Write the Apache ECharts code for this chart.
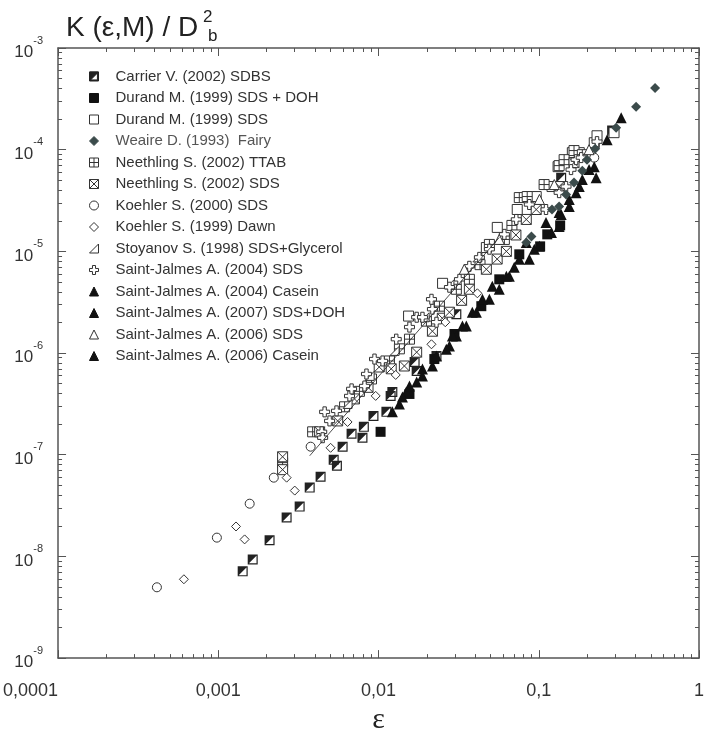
<!DOCTYPE html>
<html><head><meta charset="utf-8">
<script src="https://cdn.jsdelivr.net/npm/echarts@6/dist/echarts.min.js"></script>
<style>html,body{margin:0;padding:0;background:#fff}#c{width:707px;height:740px}</style>
</head><body><div id="c"></div>
<script>
// ---- tick labels ----
const xTickLabels = ['0,0001', '0,001', '0,01', '0,1', '1'];
const yTickExponents = ['-9', '-8', '-7', '-6', '-5', '-4', '-3'];

// ---- series names (legend order) ----
const seriesNames = [
  'Carrier V. (2002) SDBS',
  'Durand M. (1999) SDS + DOH',
  'Durand M. (1999) SDS',
  'Weaire D. (1993)  Fairy',
  'Neethling S. (2002) TTAB',
  'Neethling S. (2002) SDS',
  'Koehler S. (2000) SDS',
  'Koehler S. (1999) Dawn',
  'Stoyanov S. (1998) SDS+Glycerol',
  'Saint-Jalmes A. (2004) SDS',
  'Saint-Jalmes A. (2004) Casein',
  'Saint-Jalmes A. (2007) SDS+DOH',
  'Saint-Jalmes A. (2006) SDS',
  'Saint-Jalmes A. (2006) Casein'
];

// ---- data [epsilon, K/Db^2] ----
const carrier2002 = [[1.42e-3,7.13e-9],[1.64e-3,9.35e-9],[2.09e-3,1.44e-8],[2.67e-3,2.41e-8],[3.22e-3,3.09e-8],[3.72e-3,4.75e-8],[4.35e-3,6.08e-8],[5.25e-3,8.93e-8],[5.5e-3,7.8e-8],[5.97e-3,1.2e-7],[6.79e-3,1.61e-7],[7.94e-3,1.47e-7],[8.1e-3,1.88e-7],[9.3e-3,2.41e-7],[1.12e-2,2.64e-7],[1.19e-2,3.78e-7],[1.22e-2,4.15e-7],[1.68e-2,8.16e-7],[1.73e-2,6.67e-7],[2.30e-2,9.35e-7],[3.06e-2,2.41e-6],[0.138,5.31e-5],[0.287,1.54e-4]];
const durandDOH = [[1.03e-2,1.68e-7],[1.56e-2,3.96e-7],[2.23e-2,8.73e-7],[2.98e-2,1.54e-6],[4.38e-2,2.89e-6],[5.67e-2,5.31e-6],[7.56e-2,9.35e-6],[0.102,1.12e-5],[0.113,1.47e-5],[0.136,1.8e-5]];
const durandSDS = [[1.54e-2,2.31e-6],[2.51e-2,4.85e-6],[4.71e-2,1.09e-5],[5.51e-2,1.72e-5],[7.34e-2,2.58e-5],[8.73e-2,3.46e-5],[9.64e-2,3.46e-5],[0.121,4.34e-5],[0.132,6.81e-5],[0.162,9.35e-5],[0.179,9.35e-5],[0.222,1.17e-4],[0.231,1.37e-4],[0.295,1.47e-4]];
const weaire1993 = [[0.532,4.05e-4],[0.405,2.64e-4],[0.304,1.64e-4],[0.225,1.02e-4],[0.2,7.98e-5],[0.187,6.22e-5],[0.166,4.75e-5],[0.148,3.62e-5],[0.134,2.76e-5],[0.121,2.58e-5],[0.09,1.4e-5],[8.36e-2,1.22e-5]];
const neethlingTTAB = [[2.52e-3,8.36e-8],[3.88e-3,1.68e-7],[6.14e-3,2.96e-7],[7.6e-3,4.2e-7],[9.04e-3,5.56e-7],[1.17e-2,8.36e-7],[1.35e-2,1.1e-6],[1.56e-2,1.37e-6],[1.99e-2,2.06e-6],[2.40e-2,2.89e-6],[3.06e-2,4.24e-6],[3.69e-2,5.31e-6],[4.3e-2,7.4e-6],[4.92e-2,1.17e-5],[6.10e-2,1.31e-5],[6.8e-2,1.8e-5],[7.56e-2,3.38e-5],[8.47e-2,3.46e-5],[0.108,4.54e-5],[0.134,6.97e-5],[0.144,7.98e-5],[0.166,9.8e-5],[0.187,8.93e-5]];
const neethlingSDS = [[2.52e-3,9.55e-8],[2.52e-3,7.13e-8],[4.29e-3,1.68e-7],[5.56e-3,2.15e-7],[7.08e-3,3.54e-7],[8.6e-3,4.6e-7],[1.01e-2,7.29e-7],[1.2e-2,7.0e-7],[1.45e-2,7.46e-7],[1.73e-2,1.02e-6],[2.17e-2,1.64e-6],[2.5e-2,2.2e-6],[2.77e-2,2.52e-6],[3.3e-2,3.3e-6],[3.69e-2,4.24e-6],[4.71e-2,6.67e-6],[5.5e-2,8.4e-6],[6.28e-2,1.0e-5],[7.2e-2,1.45e-5],[8.36e-2,2.06e-5],[9.64e-2,2.58e-5],[0.134,4.34e-5],[0.166,7.46e-5]];
const koehler2000 = [[4.14e-4,4.97e-9],[9.8e-4,1.53e-8],[1.57e-3,3.3e-8],[2.22e-3,5.95e-8],[3.77e-3,1.2e-7],[0.222,8.35e-5]];
const koehler1999 = [[6.1e-4,5.96e-9],[1.29e-3,1.97e-8],[1.46e-3,1.47e-8],[2.67e-3,5.95e-8],[3.0e-3,4.44e-8],[5.02e-3,1.17e-7],[6.41e-3,2.1e-7],[9.6e-3,3.79e-7],[1.28e-2,6.09e-7],[2.14e-2,1.22e-6],[2.61e-2,2.01e-6],[4.14e-2,3.87e-6]];
const stoyanov1998 = [[6.41e-3,3.16e-7],[8.8e-3,5.96e-7],[1.26e-2,1.05e-6],[1.94e-2,2.25e-6],[2.77e-2,4.74e-6],[4.14e-2,8.73e-6]];
const sj2004SDS = [[4.42e-3,1.68e-7],[4.61e-3,2.64e-7],[4.95e-3,2.15e-7],[5.47e-3,2.70e-7],[4.48e-3,1.47e-7],[6.59e-3,3.78e-7],[6.79e-3,4.44e-7],[8.18e-3,4.74e-7],[8.41e-3,6.22e-7],[9.44e-3,8.73e-7],[1.06e-2,8.36e-7],[1.29e-2,1.37e-6],[1.56e-2,1.80e-6],[1.73e-2,2.25e-6],[1.88e-2,2.25e-6],[2.17e-2,2.70e-6],[2.30e-2,2.01e-6],[2.14e-2,3.38e-6],[2.77e-2,4.44e-6],[3.20e-2,5.31e-6],[3.69e-2,7.13e-6],[4.26e-2,8.73e-6],[4.92e-2,1.05e-5],[6.10e-2,1.47e-5],[7.24e-2,2.06e-5],[8.73e-2,2.89e-5],[0.111,2.58e-5],[0.134,3.78e-5],[0.148,4.34e-5],[0.159,6.37e-5],[0.171,7.98e-5],[0.184,8.36e-5],[0.231,1.20e-4]];
const sj2004Casein = [[1.22e-2,2.64e-7],[1.49e-2,4.15e-7],[1.88e-2,6.97e-7],[2.30e-2,9.35e-7],[2.77e-2,1.17e-6],[3.34e-2,1.84e-6],[3.85e-2,2.52e-6],[4.45e-2,3.38e-6],[5.13e-2,4.54e-6],[6.28e-2,5.69e-6],[7.56e-2,8.36e-6],[8.36e-2,1.22e-5]];
const sj2007SDSDOH = [[1.56e-2,4.74e-7],[1.88e-2,5.96e-7],[2.17e-2,7.46e-7],[2.65e-2,1.09e-6],[3.06e-2,1.47e-6],[3.53e-2,1.84e-6],[4.08e-2,2.52e-6],[4.92e-2,3.38e-6],[5.67e-2,4.24e-6],[6.55e-2,5.69e-6],[8.73e-2,8.36e-6],[0.101,1.12e-5],[0.111,1.92e-5]];
const sj2006SDS = [[3.43e-2,6.67e-6],[5.67e-2,1.31e-5],[0.101,3.24e-5],[0.125,4.54e-5],[0.206,1.0e-4]];
const sj2006Casein = [[0.134,2.41e-5],[0.155,3.24e-5],[0.228,5.31e-5],[0.222,6.81e-5],[0.206,6.37e-5],[0.187,5.08e-5],[0.179,4.34e-5],[0.171,3.78e-5],[0.155,2.76e-5],[0.138,2.31e-5],[0.134,1.76e-5],[0.267,1.25e-4],[0.327,2.06e-4],[2.89e-2,1.47e-6],[1.35e-2,3.16e-7],[1.73e-2,5.20e-7],[1.41e-2,3.70e-7],[7.03e-2,6.97e-6],[9.38e-2,1.05e-5],[0.120,1.53e-5]];
const guideLine = [[3.72e-3,9.77e-8],[5.67e-2,1.37e-5]];

// ---- drawing ----
const FONT = "'Liberation Sans', Arial, sans-serif";
const INK = '#333';
const AXC = '#555';
const P_HALF = 'path://M0,0H100V100H0Z M12,12V88H88V12Z M0,0H100L0,100Z';
const P_PLUSBOX = 'path://M0,0H100V100H0Z M50,0V100 M0,50H100';
const P_XBOX = 'path://M0,0H100V100H0Z M0,0L100,100 M100,0L0,100';
const P_RTRI = 'path://M0,100H100V0Z';
const P_CROSS = 'path://M33,0H67V33H100V67H67V100H33V67H0V33H33Z';

function minorValues(d0, d1) {
  const out = [];
  for (let d = d0; d < d1; d++) for (let m = 2; m <= 9; m++) out.push(+(m * Math.pow(10, d)).toPrecision(3));
  return out;
}
const xMinor = minorValues(-4, 0);
const yMinor = minorValues(-9, -3);

function logAxis(dim, position, isMinor, showLabel) {
  const isX = dim === 'x';
  const ax = {
    type: 'log', logBase: 10,
    min: isX ? 1e-4 : 1e-9, max: isX ? 1 : 1e-3,
    interval: 1,
    position: position,
    splitLine: { show: false },
    minorTick: { show: false },
    axisLine: { show: !isMinor, lineStyle: { color: AXC, width: 1.5 } },
    axisTick: { show: true, inside: true, length: isMinor ? 4 : 8, lineStyle: { color: AXC, width: 1 } },
    axisLabel: { show: false },
    silent: true
  };
  if (isMinor) ax.axisTick.customValues = isX ? xMinor : yMinor;
  if (showLabel && isX) {
    ax.axisLabel = {
      show: true, margin: 24, fontSize: 18, fontFamily: FONT, color: INK,
      alignMinLabel: 'right',
      formatter: v => xTickLabels[Math.round(Math.log10(v)) + 4]
    };
    ax.name = 'ε';
    ax.nameLocation = 'middle';
    ax.nameGap = 36;
    ax.nameTextStyle = { fontFamily: "'Liberation Serif', 'DejaVu Serif', serif", fontSize: 30, color: '#222' };
  }
  if (showLabel && !isX) {
    ax.axisLabel = {
      show: true, margin: 15, color: INK, fontFamily: FONT,
      formatter: v => '{b|10}{s|' + yTickExponents[Math.round(Math.log10(v)) + 9] + '}',
      rich: {
        b: { fontSize: 17, fontFamily: FONT, color: INK, verticalAlign: 'bottom', lineHeight: 26 },
        s: { fontSize: 11, fontFamily: FONT, color: INK, verticalAlign: 'top', lineHeight: 26 }
      }
    };
  }
  return ax;
}

function sc(name, data, symbol, size, fill, stroke, bw) {
  return {
    name: name, type: 'scatter', data: data, symbol: symbol, symbolSize: size,
    xAxisIndex: 0, yAxisIndex: 0,
    itemStyle: { color: fill, borderColor: stroke, borderWidth: bw, opacity: 1 },
    emphasis: { disabled: true }
  };
}

const series = [
  sc(seriesNames[0], carrier2002, P_HALF, 10, '#222', '#222', 0),
  sc(seriesNames[1], durandDOH, 'rect', 10, '#111', '#111', 0),
  sc(seriesNames[2], durandSDS, 'rect', 10, '#fff', INK, 1),
  sc(seriesNames[4], neethlingTTAB, P_PLUSBOX, 10, '#fff', INK, 1),
  sc(seriesNames[5], neethlingSDS, P_XBOX, 10, '#fff', INK, 1),
  sc(seriesNames[6], koehler2000, 'circle', 9, '#fff', INK, 1),
  sc(seriesNames[7], koehler1999, 'diamond', 9, '#fff', INK, 1),
  sc(seriesNames[8], stoyanov1998, P_RTRI, 9, '#fff', INK, 1),
  sc(seriesNames[9], sj2004SDS, P_CROSS, 10, '#fff', INK, 1),
  sc(seriesNames[12], sj2006SDS, 'triangle', 10, '#fff', INK, 1),
  sc(seriesNames[10], sj2004Casein, 'triangle', 11, '#111', '#111', 0),
  sc(seriesNames[11], sj2007SDSDOH, 'triangle', 11, '#111', '#111', 0),
  sc(seriesNames[13], sj2006Casein, 'triangle', 11, '#111', '#111', 0),
  sc(seriesNames[3], weaire1993, 'diamond', 10, '#3b4b4b', '#3b4b4b', 0),
  {
    name: 'guide', type: 'line', data: guideLine, symbol: 'none', xAxisIndex: 0, yAxisIndex: 0,
    lineStyle: { color: '#222', width: 0.8 }, emphasis: { disabled: true }, silent: true
  }
];

const chart = echarts.init(document.getElementById('c'), null, { renderer: 'canvas' });
chart.setOption({
  animation: false,
  backgroundColor: '#fff',
  title: [
    { text: 'K (ε,M) / D', left: 61, top: 9, textStyle: { fontFamily: FONT, fontSize: 28, fontWeight: 'normal', color: '#222' } },
    { text: '2', left: 198, top: 4, textStyle: { fontFamily: FONT, fontSize: 17, fontWeight: 'normal', color: '#222' } },
    { text: 'b', left: 203, top: 23, textStyle: { fontFamily: FONT, fontSize: 17, fontWeight: 'normal', color: '#222' } }
  ],
  grid: { left: 58, right: 8, top: 48, bottom: 80, containLabel: false },
  xAxis: [logAxis('x', 'bottom', false, true), logAxis('x', 'bottom', true, false), logAxis('x', 'top', false, false), logAxis('x', 'top', true, false)],
  yAxis: [logAxis('y', 'left', false, true), logAxis('y', 'left', true, false), logAxis('y', 'right', false, false), logAxis('y', 'right', true, false)],
  legend: {
    orient: 'vertical', left: 84, top: 64,
    itemWidth: 9, itemHeight: 9, itemGap: 6.5,
    selectedMode: false,
    data: seriesNames.map((n, i) => i === 3 ? { name: n, textStyle: { color: '#555' } } : n),
    itemStyle: { borderWidth: 1 },
    textStyle: { fontFamily: FONT, fontSize: 15, color: INK, lineHeight: 15, padding: [0, 0, 0, 12] }
  },
  series: series
});
</script></body></html>
